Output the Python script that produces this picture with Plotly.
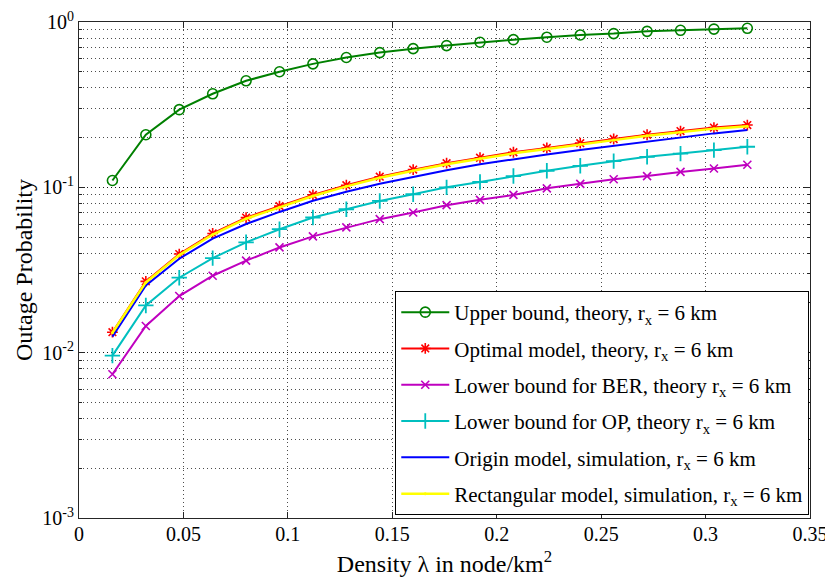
import plotly.graph_objects as go

# Density values (node/km^2)
density = [0.016, 0.032, 0.048, 0.064, 0.080, 0.096, 0.112, 0.128, 0.144, 0.160,
           0.176, 0.192, 0.208, 0.224, 0.240, 0.256, 0.272, 0.288, 0.304, 0.320]

upper_bound = [0.110, 0.208, 0.295, 0.368, 0.441, 0.500, 0.558, 0.610, 0.653, 0.690,
               0.720, 0.754, 0.782, 0.809, 0.835, 0.851, 0.878, 0.891, 0.906, 0.916]
optimal = [0.0133, 0.0270, 0.0395, 0.0526, 0.0656, 0.0770, 0.0900, 0.1030, 0.1160, 0.1280,
           0.1400, 0.1510, 0.1630, 0.1730, 0.1850, 0.1960, 0.2080, 0.2190, 0.2300, 0.2380]
lower_ber = [0.0074, 0.0145, 0.0220, 0.0292, 0.0360, 0.0433, 0.0505, 0.0572, 0.0642, 0.0704,
             0.0780, 0.0840, 0.0900, 0.0986, 0.1050, 0.1120, 0.1170, 0.1240, 0.1300, 0.1370]
lower_op = [0.0096, 0.0193, 0.0284, 0.0373, 0.0465, 0.0558, 0.0657, 0.0737, 0.0827, 0.0908,
            0.1000, 0.1077, 0.1170, 0.1260, 0.1350, 0.1440, 0.1530, 0.1600, 0.1680, 0.1760]
origin_sim = [0.0125, 0.0255, 0.0370, 0.0490, 0.0600, 0.0710, 0.0830, 0.0940, 0.1050, 0.1160,
              0.1270, 0.1380, 0.1480, 0.1580, 0.1680, 0.1780, 0.1900, 0.2010, 0.2120, 0.2220]
rect_sim = [0.0132, 0.0266, 0.0389, 0.0518, 0.0646, 0.0758, 0.0886, 0.1014, 0.1142, 0.1260,
            0.1379, 0.1487, 0.1605, 0.1704, 0.1822, 0.1930, 0.2048, 0.2157, 0.2265, 0.2344]

y_tickvals = [0.001, 0.01, 0.1, 1]
y_ticktext = ["10<sup>-3</sup>", "10<sup>-2</sup>", "10<sup>-1</sup>", "10<sup>0</sup>"]

names = [
    "Upper bound, theory, r<sub>x</sub> = 6 km",
    "Optimal model, theory, r<sub>x</sub> = 6 km",
    "Lower bound for BER, theory r<sub>x</sub> = 6 km",
    "Lower bound for OP, theory r<sub>x</sub> = 6 km",
    "Origin model, simulation, r<sub>x</sub> = 6 km",
    "Rectangular model, simulation, r<sub>x</sub> = 6 km",
]

FONT = "Times New Roman, Liberation Serif, DejaVu Serif, serif"

fig = go.Figure()
fig.add_trace(go.Scatter(x=density, y=upper_bound, name=names[0], legendgroup="g1",
                         mode="lines+markers", line=dict(color="#008000", width=2),
                         marker=dict(symbol="circle-open", size=10, color="#008000",
                                     line=dict(width=1.6, color="#008000"))))
fig.add_trace(go.Scatter(x=density, y=optimal, name=names[1], legendgroup="g2",
                         mode="lines+markers", line=dict(color="#FF0000", width=2),
                         marker=dict(symbol="asterisk-open", size=9, color="#FF0000",
                                     line=dict(width=1.6, color="#FF0000"))))
fig.add_trace(go.Scatter(x=density, y=lower_ber, name=names[2], legendgroup="g3",
                         mode="lines+markers", line=dict(color="#BF00BF", width=2),
                         marker=dict(symbol="x-thin-open", size=8, color="#BF00BF",
                                     line=dict(width=1.6, color="#BF00BF"))))
fig.add_trace(go.Scatter(x=density, y=lower_op, name=names[3], legendgroup="g4",
                         mode="lines+markers", line=dict(color="#00BFBF", width=2),
                         marker=dict(symbol="cross-thin-open", size=11, color="#00BFBF",
                                     line=dict(width=1.8, color="#00BFBF"))))
fig.add_trace(go.Scatter(x=density, y=origin_sim, name=names[4], legendgroup="g5",
                         mode="lines", line=dict(color="#0000FF", width=2)))
fig.add_trace(go.Scatter(x=density, y=rect_sim, name=names[5], legendgroup="g6",
                         mode="lines+markers", line=dict(color="#FFFF00", width=2.5),
                         marker=dict(symbol="circle", size=3, color="#FFFF00")))

grid = dict(gridcolor="rgba(0,0,0,0.7)", gridwidth=1, griddash="1px,3px")

fig.update_xaxes(range=[0, 0.35], dtick=0.05, tick0=0, showline=True, mirror="ticks",
                 linecolor="#262626", linewidth=1, ticks="inside", ticklen=6,
                 tickcolor="#262626", zeroline=False, showgrid=True, automargin=False,
                 ticklabeloverflow="allow", ticklabelstandoff=-2,
                 tickfont=dict(family=FONT, size=20, color="#000"),
                 title=dict(text="Density λ in node/km<sup>2</sup>",
                            font=dict(family=FONT, size=24, color="#000"), standoff=11),
                 **grid)
fig.update_yaxes(type="log", range=[-3, 0], tickvals=y_tickvals, ticktext=y_ticktext,
                 showline=True, mirror="ticks", linecolor="#262626", linewidth=1,
                 ticks="inside", ticklen=6, tickcolor="#262626", zeroline=False,
                 showgrid=True, automargin=False,
                 minor=dict(dtick="D1", ticks="inside", ticklen=3, tickcolor="#262626",
                            showgrid=True, gridcolor="rgba(0,0,0,0.7)", gridwidth=1,
                            griddash="1px,3px"),
                 tickfont=dict(family=FONT, size=20, color="#000"),
                 title=dict(text="Outage Probability",
                            font=dict(family=FONT, size=24, color="#000"), standoff=2),
                 **grid)

# page body has an 8px default margin, so the figure is sized to fit inside it
fig.update_layout(
    width=825, height=577,
    margin=dict(l=71, r=23, t=14, b=67),
    paper_bgcolor="white", plot_bgcolor="white",
    font=dict(family=FONT, color="#000"),
    showlegend=True,
    legend=dict(x=0.999, y=0.006, xanchor="right", yanchor="bottom",
                bgcolor="white", bordercolor="#000", borderwidth=1,
                font=dict(family=FONT, size=21, color="#000"),
                tracegroupgap=6, itemwidth=48),
)

fig.write_html("out.html")
